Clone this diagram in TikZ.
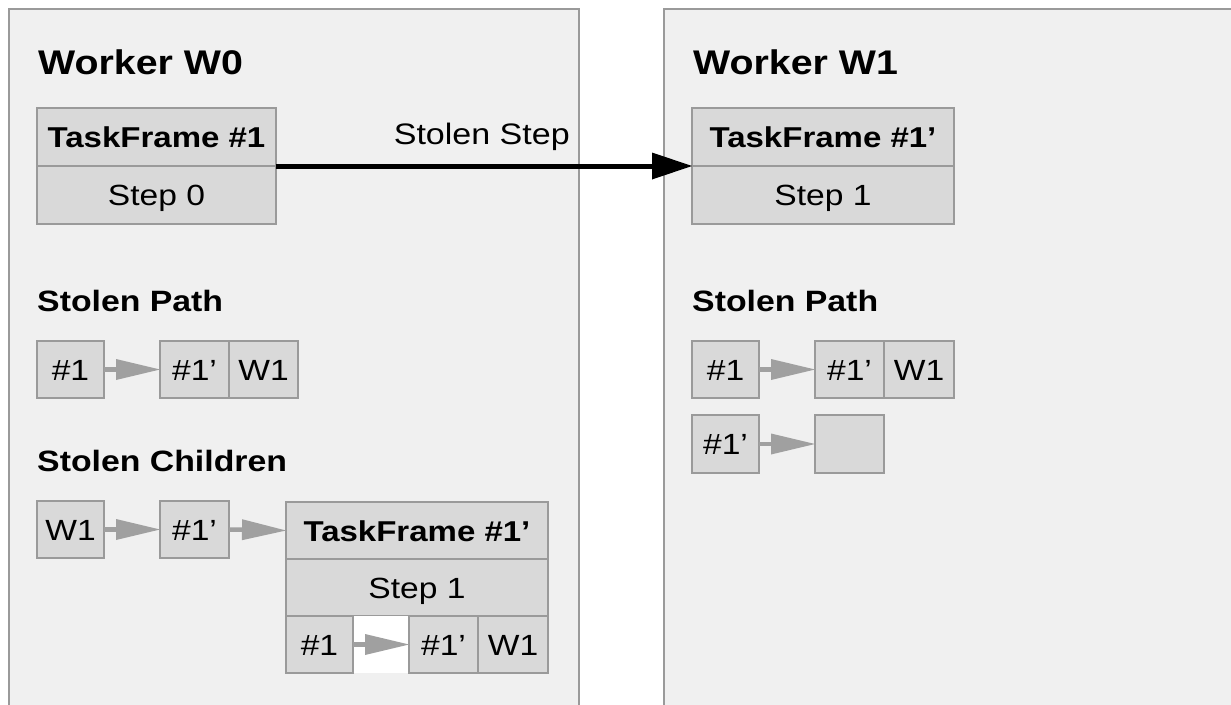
\documentclass[tikz,border=0pt]{standalone}
\usepackage{fontspec}
\setmainfont[FakeStretch=1.15]{Liberation Sans}
\usetikzlibrary{arrows.meta}
\definecolor{boxfill}{HTML}{F0F0F0}
\definecolor{cellfill}{HTML}{D9D9D9}
\definecolor{edgegray}{HTML}{9A9A9A}
\definecolor{arrgray}{HTML}{A0A0A0}
\tikzset{
  cellbox/.style={draw=edgegray, fill=cellfill, line width=2pt, inner sep=0pt, outer sep=0pt,
    minimum height=57pt, font=\fontsize{29.2}{31}\selectfont, text height=21pt, text depth=0pt},
  hdrbox/.style={cellbox, font=\fontsize{28.7}{31}\selectfont\bfseries},
  workerbox/.style={draw=edgegray, fill=boxfill, line width=2.5pt},
  wtitle/.style={anchor=base west, inner sep=0pt, font=\fontsize{34.2}{36}\selectfont\bfseries},
  sectitle/.style={anchor=base west, inner sep=0pt, font=\fontsize{29.4}{31}\selectfont\bfseries},
  steal/.style={draw=black, line width=5pt, -{Triangle[length=40pt, width=27pt, line width=0pt]}},
  link/.style={draw=arrgray, line width=4.5pt, -{Triangle[length=44pt, width=21pt, line width=0pt]}},
}
\begin{document}
\begin{tikzpicture}[x=1pt, y=-1pt]
\useasboundingbox (0,0) rectangle (1231,704);
\begin{scope}
\clip (0,0) rectangle (1231,704);
\fill[white] (0,0) rectangle (1231,704);
% worker boxes
\draw[workerbox] (9,9) rectangle (579,760);
\draw[workerbox] (664,9) rectangle (1260,760);
\end{scope}

% titles
\node[wtitle] (w0) at (38,74) {Worker W0};
\node[wtitle] (w1) at (693,74) {Worker W1};

% task frames at top
\node[hdrbox, minimum width=239pt, minimum height=58pt] (tf1h) at (156.5,137) {TaskFrame \#1};
\node[cellbox, minimum width=239pt, minimum height=58pt] (tf1s) at (156.5,195) {Step 0};
\node[hdrbox, minimum width=262pt, minimum height=58pt] (tf1ph) at (823,137) {TaskFrame \#1'};
\node[cellbox, minimum width=262pt, minimum height=58pt] (tf1ps) at (823,195) {Step 1};

\draw[steal] (tf1h.south east) -- (tf1ph.south west);
\node[anchor=base east, inner sep=0pt, font=\fontsize{29.6}{31}\selectfont] (lbl) at (570,144) {Stolen Step};

% W0 stolen path
\node[sectitle] (sp0) at (37,311) {Stolen Path};
\node[cellbox, minimum width=67pt] (p0a) at (70.5,369.5) {\#1};
\node[cellbox, minimum width=69pt] (p0b) at (194.5,369.5) {\#1'};
\node[cellbox, minimum width=69pt] (p0c) at (263.5,369.5) {W1};
\draw[link] (p0a.east) -- (p0b.west);

% W0 stolen children
\node[sectitle] (sc0) at (37,471) {Stolen Children};
\node[cellbox, minimum width=67pt] (c0a) at (70.5,529.5) {W1};
\node[cellbox, minimum width=69pt] (c0b) at (194.5,529.5) {\#1'};
\node[hdrbox, minimum width=262pt] (tf2h) at (417,530.5) {TaskFrame \#1'};
\node[cellbox, minimum width=262pt] (tf2s) at (417,587.5) {Step 1};
\fill[white] (353,616) rectangle (409,673);
\node[cellbox, minimum width=67pt] (b1) at (319.5,644.5) {\#1};
\node[cellbox, minimum width=69pt] (b2) at (443.5,644.5) {\#1'};
\node[cellbox, minimum width=70pt] (b3) at (513,644.5) {W1};
\draw[link] (c0a.east) -- (c0b.west);
\draw[link] (c0b.east) -- (tf2h.west);
\draw[link] (b1.east) -- (b2.west);

% W1 stolen path
\node[sectitle] (sp1) at (692,311) {Stolen Path};
\node[cellbox, minimum width=67pt] (q1) at (725.5,369.5) {\#1};
\node[cellbox, minimum width=69pt] (q2) at (849.5,369.5) {\#1'};
\node[cellbox, minimum width=70pt] (q3) at (919,369.5) {W1};
\node[cellbox, minimum width=67pt, minimum height=58pt] (q4) at (725.5,444) {\#1'};
\node[cellbox, minimum width=69pt, minimum height=58pt] (q5) at (849.5,444) {};
\draw[link] (q1.east) -- (q2.west);
\draw[link] (q4.east) -- (q5.west);
\end{tikzpicture}
\end{document}
